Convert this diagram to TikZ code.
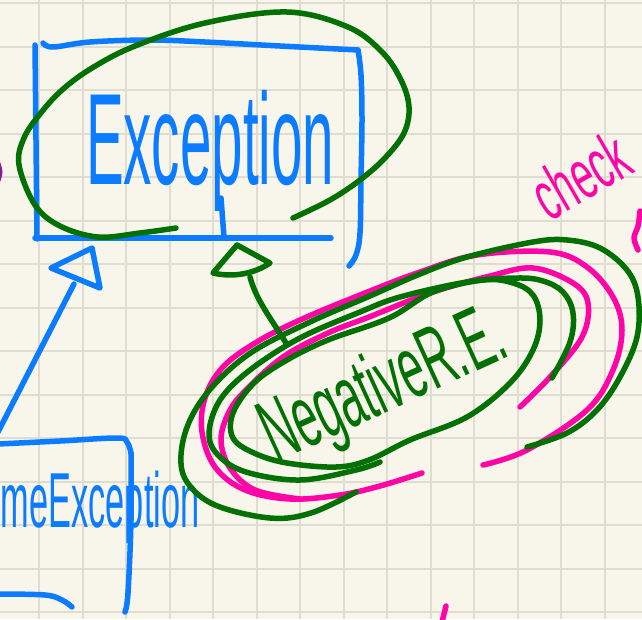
\documentclass[tikz,border=0pt]{standalone}
\usepackage{fontspec}
\usepackage{graphicx}
\setmainfont{Liberation Sans}
\definecolor{bgc}{HTML}{F8F6EA}
\definecolor{gridc}{HTML}{DFDDD0}
\definecolor{penblue}{HTML}{0B7BFF}
\definecolor{pengreen}{HTML}{037003}
\definecolor{penpink}{HTML}{FF05A8}
\definecolor{penpurple}{HTML}{8A1AA0}
\tikzset{
  pen/.style={line width=5.5pt, line cap=round, line join=round},
  bluepen/.style={pen, draw=penblue},
  greenpen/.style={pen, draw=pengreen},
  pinkpen/.style={pen, draw=penpink},
  gridline/.style={draw=gridc, line width=2pt},
  hand/.style={inner sep=0pt, outer sep=0pt},
}
\begin{document}
\begin{tikzpicture}[x=1pt, y=-1pt]
\fill[bgc] (0,0) rectangle (642,619);
\useasboundingbox (0,0) rectangle (642,619);
\begin{scope}
\clip (0,0) rectangle (642,619);
% grid
\foreach \k in {0,...,14} {
  \draw[gridline] ({39+43.5*\k},0) -- ({39+43.5*\k},619);
  \draw[gridline] (0,{3.2+43.5*\k}) -- (642,{3.2+43.5*\k});
}

% ---------- Exception box ----------
\coordinate (eBL) at (35,238);
\coordinate (eBR) at (331,238);
\draw[bluepen] plot[smooth, tension=0.6] coordinates {(43,43) (53,47) (90,42) (150,40) (205,42) (280,46) (358,50)};
\draw[bluepen] plot[smooth, tension=0.6] coordinates {(358,50) (361,75) (362,120) (361,180) (360,233) (356,255) (349,266)};
\draw[bluepen] plot[smooth, tension=0.6] coordinates {(35,45) (36,140) (37,239)};
\draw[bluepen] (eBL) -- (eBR);
\node[hand, anchor=base west, text=penblue, font=\fontsize{130}{130}\selectfont] (exc) at (86,184) {\scalebox{0.435}[1]{Exception}};
\coordinate (pstem) at (221,198);
\coordinate (pfoot) at (224,237);
\draw[bluepen] (pstem) -- (pfoot);

% green loop round Exception
\draw[greenpen] plot[smooth, tension=0.6] coordinates {(176,228) (140,233) (98,237) (60,226) (35,205) (19,165) (24,138) (40,114) (62,90) (92,68) (135,46) (205,23) (287,12) (348,27) (382,52) (401,80) (409,107) (404,133) (385,158) (360,180) (330,200) (293,218)};

% ---------- RuntimeException box ----------
\draw[bluepen] plot[smooth, tension=0.6] coordinates {(-2,444) (60,441) (117,438) (127,442) (131,453)};
\draw[bluepen] plot[smooth, tension=0.6] coordinates {(131,453) (131,520) (128,593) (125,612)};
\draw[bluepen] plot[smooth, tension=0.6] coordinates {(-2,594) (45,595) (62,600) (72,607)};
\node[hand, anchor=base west, text=penblue, font=\fontsize{78}{78}\selectfont] (rte) at (1,527) {\scalebox{0.44}[1]{meException}};

% inheritance arrow RuntimeException -> Exception
\coordinate (tA) at (92,248);
\coordinate (tB) at (51,268);
\coordinate (tC) at (100,288);
\draw[bluepen] (tA) -- (tB) -- (tC) -- cycle;
\coordinate (rtTop) at (74,284);
\coordinate (rtBot) at (-2,432);
\draw[bluepen] (rtTop) -- (rtBot);

% ---------- NegativeR.E. ----------
% pink loops
\draw[pinkpen] plot[smooth, tension=0.6] coordinates {(422,473) (380,486) (340,495) (290,499) (245,490) (215,467) (202,432) (205,398) (222,368) (255,343) (300,320) (360,295) (420,272) (477,255) (550,252) (587,267) (613,297) (622,330) (613,370) (587,410) (527,450) (483,465)};
\draw[pinkpen] plot[smooth, tension=0.6] coordinates {(300,499) (255,490) (230,468) (221,440) (229,412) (246,390) (283,357) (328,333) (369,317) (430,293) (490,276) (533,268) (573,283) (588,303) (582,337) (550,377) (520,407)};
% green loops
\draw[greenpen] plot[smooth, tension=0.6] coordinates {(356,492) (311,513) (270,518) (215,505) (187,482) (181,455) (190,420) (213,386) (252,352) (310,322) (370,296) (420,274) (467,257) (533,242) (567,240) (600,248) (627,270) (638,297) (637,337) (620,377) (597,410) (567,433) (527,447)};
\draw[greenpen] plot[smooth, tension=0.6] coordinates {(380,462) (356,470) (300,480) (246,472) (218,455) (209,433) (220,400) (250,370) (300,338) (360,312) (400,297) (467,282) (517,278) (543,281) (563,292) (573,313) (570,342) (552,378)};
\draw[greenpen] plot[smooth cycle, tension=0.6] coordinates {(540,320) (533,350) (510,383) (467,417) (410,440) (369,460) (336,467) (287,463) (254,453) (233,438) (233,413) (254,383) (287,360) (328,340) (389,318) (433,292) (483,280) (513,283) (533,295)};
\node[hand, anchor=base, rotate=24.6, text=pengreen, font=\fontsize{88}{88}\selectfont] (neg) at (394,409) {\scalebox{0.5}[1]{NegativeR.E.}};

% inheritance arrow NegativeR.E. -> Exception
\coordinate (gA) at (237,245);
\coordinate (gB) at (213,273);
\coordinate (gC) at (270,263);
\draw[greenpen] (gA) -- (gB) .. controls (235,278) and (255,273) .. (gC) -- cycle;
\coordinate (gStemTop) at (250,277);
\coordinate (gStemBot) at (286,343);
\draw[greenpen] (gStemTop) .. controls (256,300) and (272,320) .. (gStemBot);

% ---------- pink "check" ----------
\node[hand, anchor=base west, rotate=30, text=penpink, font=\fontsize{70}{70}\selectfont] (chk) at (549,222) {\scalebox{0.55}[1]{check}};
\draw[pinkpen] plot[smooth, tension=0.6] coordinates {(640,211) (638,226) (634,238) (638,250)};
\draw[pinkpen] (446,606) -- (442,622);
\draw[line width=4pt, line cap=round, draw=penpurple] plot[smooth] coordinates {(-2,162) (0.5,172) (-2,182)};
\end{scope}
\end{tikzpicture}
\end{document}
